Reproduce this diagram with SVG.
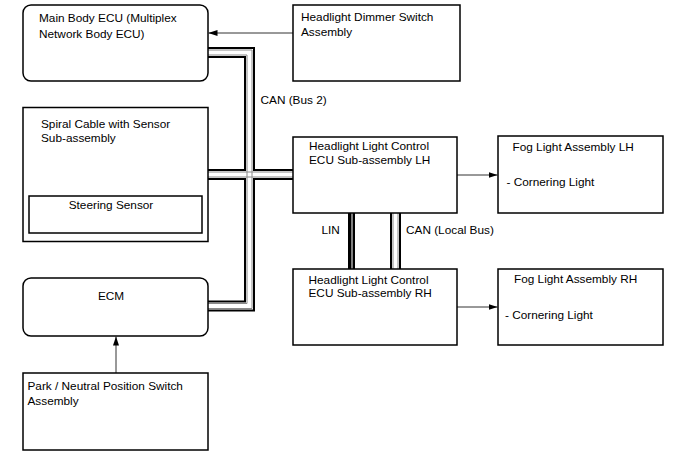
<svg xmlns="http://www.w3.org/2000/svg" width="688" height="463" viewBox="0 0 688 463">
<style>
.box{fill:#fff;stroke:#000;stroke-width:1.5}
.t{font-family:"Liberation Sans",Arial,sans-serif;font-size:11.8px;fill:#000}
.c{text-anchor:middle}
.arr{stroke:#333;stroke-width:1;fill:none}
.b1{fill:none;stroke:#000;stroke-width:11}
.b2{fill:none;stroke:#fff;stroke-width:7}
.g{fill:none;stroke:#8a8a8a;stroke-width:1}
</style>
<defs>
<marker id="ah" markerWidth="9" markerHeight="6" refX="9" refY="3" orient="auto" markerUnits="userSpaceOnUse">
<path d="M0,0 L9,3 L0,6 Z" fill="#000"/>
</marker>
</defs>
<rect width="688" height="463" fill="#fff"/>
<g id="connectors">
<path class="b1" d="M208,52.5 H249.5 V306 H208 M208,174.5 H293 M395.5,213 V269"/>
<path class="b2" d="M208,52.5 H249.5 V306 H208 M208,174.5 H293 M395.5,213 V269"/>
<path class="g" d="M208,50 H252 V308.5 H208 M208,55 H247 V303.5 H208 M208,172 H293 M208,177 H293 M393,213 V269 M398,213 V269"/>
<rect x="348" y="213" width="7" height="56" fill="#000"/>
<rect x="351.5" y="213" width="1" height="56" fill="#fff"/>
<line class="arr" x1="293" y1="33" x2="208.5" y2="33" marker-end="url(#ah)"/>
<line class="arr" x1="116" y1="373" x2="116" y2="336.5" marker-end="url(#ah)"/>
<line class="arr" x1="457" y1="175" x2="497.5" y2="175" marker-end="url(#ah)"/>
<line class="arr" x1="457" y1="307" x2="497.5" y2="307" marker-end="url(#ah)"/>
<text class="t" x="260.5" y="104">CAN (Bus 2)</text>
<text class="t" x="321.5" y="234">LIN</text>
<text class="t" x="406" y="234">CAN (Local Bus)</text>
</g>
<g id="main-body-ecu">
<rect class="box" x="23" y="5" width="185" height="76" rx="8"/>
<text class="t" x="39" y="22">Main Body ECU (Multiplex</text>
<text class="t" x="39" y="37.5">Network Body ECU)</text>
</g>
<g id="dimmer-switch">
<rect class="box" x="293" y="5" width="167" height="76"/>
<text class="t" x="301" y="20.5">Headlight Dimmer Switch</text>
<text class="t" x="301" y="35.5">Assembly</text>
</g>
<g id="spiral-cable">
<rect class="box" x="23" y="107.5" width="185" height="134"/>
<text class="t" x="41" y="128">Spiral Cable with Sensor</text>
<text class="t" x="41" y="142">Sub-assembly</text>
</g>
<g id="steering-sensor">
<rect class="box" x="29" y="196" width="173" height="37"/>
<text class="t c" x="111" y="208.5">Steering Sensor</text>
</g>
<g id="ecm">
<rect class="box" x="23" y="278" width="185" height="58" rx="8"/>
<text class="t c" x="111" y="300">ECM</text>
</g>
<g id="park-neutral-switch">
<rect class="box" x="23" y="373" width="185" height="77"/>
<text class="t" x="27.5" y="390">Park / Neutral Position Switch</text>
<text class="t" x="27.5" y="404.5">Assembly</text>
</g>
<g id="headlight-ecu-lh">
<rect class="box" x="293" y="137" width="164" height="76"/>
<text class="t" x="309" y="150">Headlight Light Control</text>
<text class="t" x="309" y="164">ECU Sub-assembly LH</text>
</g>
<g id="headlight-ecu-rh">
<rect class="box" x="293" y="269" width="164" height="76"/>
<text class="t" x="308.5" y="283.5">Headlight Light Control</text>
<text class="t" x="308.5" y="296.5">ECU Sub-assembly RH</text>
</g>
<g id="fog-light-lh">
<rect class="box" x="498" y="136" width="165" height="77"/>
<text class="t" x="512.5" y="151">Fog Light Assembly LH</text>
<text class="t" x="506.5" y="186">- Cornering Light</text>
</g>
<g id="fog-light-rh">
<rect class="box" x="498" y="269" width="165" height="76"/>
<text class="t" x="514" y="283">Fog Light Assembly RH</text>
<text class="t" x="505" y="318.5">- Cornering Light</text>
</g>
</svg>
